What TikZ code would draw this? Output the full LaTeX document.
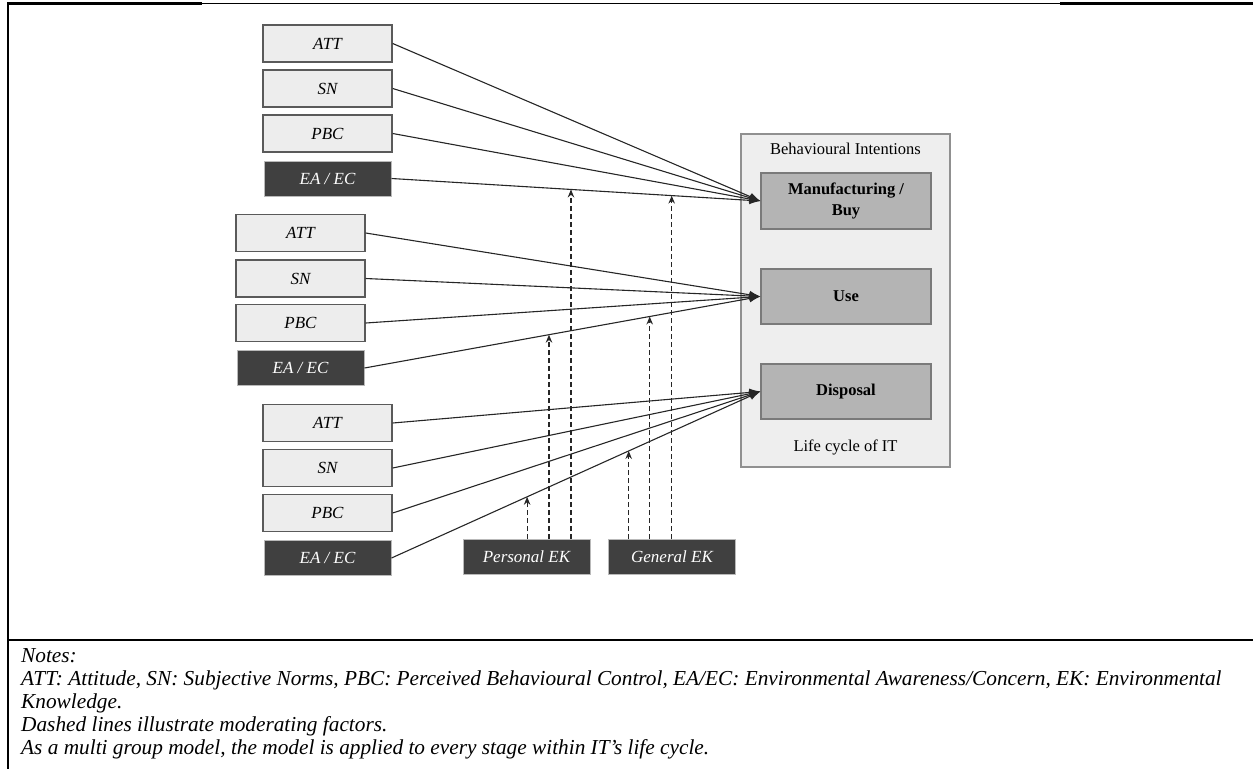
\documentclass[tikz,border=0pt]{standalone}
\usepackage{fontspec}
\setmainfont{Liberation Serif}
\usetikzlibrary{arrows.meta,calc}

\definecolor{lightfill}{HTML}{EDEDED}
\definecolor{boxline}{HTML}{5A5A5A}
\definecolor{darkfill}{HTML}{404040}
\definecolor{outerfill}{HTML}{EEEEEE}
\definecolor{outerline}{HTML}{909090}
\definecolor{stagefill}{HTML}{B4B4B4}
\definecolor{stageline}{HTML}{7A7A7A}

\tikzset{
  lightbox/.style={draw=boxline, line width=1.4pt, fill=lightfill,
    minimum width=129pt, minimum height=37pt, inner sep=0pt,
    font=\fontsize{17}{20}\selectfont\itshape},
  darkbox/.style={draw=gray!55, line width=1pt, fill=darkfill, text=white,
    minimum width=127pt, minimum height=35pt, inner sep=0pt,
    font=\fontsize{17}{20}\selectfont\itshape},
  stagebox/.style={draw=stageline, line width=1.2pt, fill=stagefill,
    minimum width=170pt, minimum height=55pt, inner sep=0pt, align=center,
    font=\fontsize{16.5}{20}\selectfont\bfseries},
  path/.style={draw=black!85, line width=1.1pt,
    -{Latex[length=11pt,width=8pt]}},
  moderator/.style={draw=black!85, line width=1.1pt,
    dash pattern=on 5pt off 3pt, -{Stealth[length=8pt,width=6.5pt]}},
  notes/.style={anchor=base west, inner sep=0pt,
    font=\fontsize{21.3}{24}\selectfont\itshape},
}

\begin{document}
\begin{tikzpicture}[x=1pt,y=-1pt]
\useasboundingbox (0,0) rectangle (1253,769);

% page frame
\draw[line width=2.5pt] (8,3.6) -- (202,3.6);
\draw[line width=0.9pt] (202,3) -- (1060,3);
\draw[line width=2.5pt] (1060,3.3) -- (1253,3.3);
\draw[line width=2pt] (8,2.4) -- (8,769);
\draw[line width=2pt] (8,639.5) -- (1253,639.5);

% life cycle container and stages
\node[draw=outerline, line width=1.2pt, fill=outerfill,
      minimum width=209pt, minimum height=333pt] (life) at (845.5,300.5) {};
\node[font=\fontsize{16.5}{20}\selectfont] (bi) at (845.5,149) {Behavioural Intentions};
\node[stagebox, minimum height=56pt] (man) at (846,201) {Manufacturing /\\[1pt]Buy};
\node[stagebox] (use) at (846,296.5) {Use};
\node[stagebox] (dis) at (846,391.5) {Disposal};
\node[font=\fontsize{16.5}{20}\selectfont] (lc) at (845.5,447) {Life cycle of IT};

% first group of predictors
\node[lightbox] (att1) at (327.5,43.5) {ATT};
\node[lightbox] (sn1) at (327.5,88.5) {SN};
\node[lightbox] (pbc1) at (327.5,133.5) {PBC};
\node[darkbox] (ea1) at (327.5,178.5) {EA / EC};

% second group of predictors
\node[lightbox] (att2) at (300.5,233) {ATT};
\node[lightbox] (sn2) at (300.5,278.5) {SN};
\node[lightbox] (pbc2) at (300.5,323) {PBC};
\node[darkbox] (ea2) at (300.5,368) {EA / EC};

% third group of predictors
\node[lightbox] (att3) at (327.5,423) {ATT};
\node[lightbox] (sn3) at (327.5,468) {SN};
\node[lightbox] (pbc3) at (327.5,513) {PBC};
\node[darkbox] (ea3) at (327.5,558) {EA / EC};

% moderators
\node[darkbox] (pek) at (526.5,557) {Personal EK};
\node[darkbox] (gek) at (672,557) {General EK};

% direct paths
\foreach \s in {att1,sn1,pbc1,ea1} \draw[path] (\s.east) -- (man.west);
\foreach \s in {att2,sn2,pbc2,ea2} \draw[path] (\s.east) -- (use.west);
\foreach \s in {att3,sn3,pbc3,ea3} \draw[path] (\s.east) -- (dis.west);

% points on the EA/EC paths where the moderators act
\coordinate (m1) at ($(ea3.east)!0.3676!(dis.west)$);
\coordinate (m2) at ($(ea2.east)!0.4660!(use.west)$);
\coordinate (m3) at ($(ea1.east)!0.4865!(man.west)$);
\coordinate (g1) at ($(ea3.east)!0.6430!(dis.west)$);
\coordinate (g2) at ($(ea2.east)!0.7204!(use.west)$);
\coordinate (g3) at ($(ea1.east)!0.7595!(man.west)$);

\foreach \m in {m1,m2,m3} \draw[moderator] (pek.north -| \m) -- (\m);
\foreach \m in {g1,g2,g3} \draw[moderator] (gek.north -| \m) -- (\m);

% notes
\node[notes] (n1) at (21,662) {Notes:};
\node[notes] (n2) at (21,685) {ATT: Attitude, SN: Subjective Norms, PBC: Perceived Behavioural Control, EA/EC: Environmental Awareness/Concern, EK: Environmental};
\node[notes] (n3) at (21,708.5) {Knowledge.};
\node[notes] (n4) at (21,731) {Dashed lines illustrate moderating factors.};
\node[notes] (n5) at (21,754) {As a multi group model, the model is applied to every stage within IT’s life cycle.};
\end{tikzpicture}
\end{document}
